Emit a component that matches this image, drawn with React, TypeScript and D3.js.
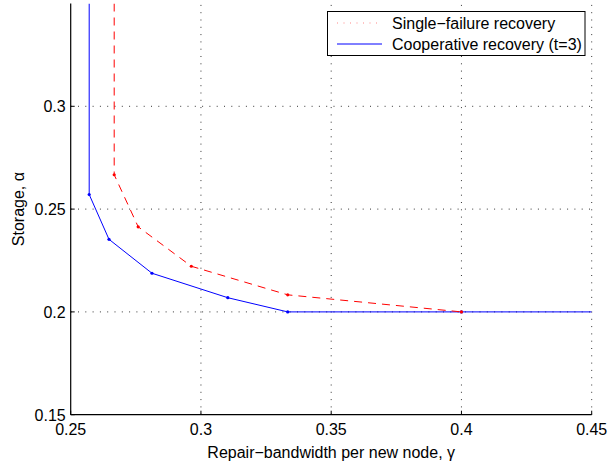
import React from "react";
import * as d3 from "d3";

const coopGamma = [0.2571, 0.2647, 0.2812, 0.3103, 0.3333, 0.4];
const coopAlpha = [0.2571, 0.2353, 0.2188, 0.2069, 0.2, 0.2];
const singleGamma = [0.2667, 0.2759, 0.2963, 0.3333, 0.4];
const singleAlpha = [0.2667, 0.2414, 0.2222, 0.2083, 0.2];
const xTicks = [0.25, 0.3, 0.35, 0.4, 0.45];
const yTicks = [0.15, 0.2, 0.25, 0.3];
const xDomain = [0.25, 0.45];
const yDomain = [0.15, 0.35];
const legendLabels = ["Single\u2212failure recovery", "Cooperative recovery (t=3)"];
const xLabel = "Repair\u2212bandwidth per new node, \u03b3";
const yLabel = "Storage, \u03b1";

const W = 608, H = 462;
const L = 70.7, R = 591.7, T = 3.5, B = 414.7;
const FONT = "'Liberation Sans', Arial, Helvetica, sans-serif";
const FS = 16;

export default function App() {
  const x = d3.scaleLinear().domain(xDomain).range([L, R]);
  const y = d3.scaleLinear().domain(yDomain).range([B, T]);
  const line = d3.line<[number, number]>().x(d => x(d[0])).y(d => y(d[1]));

  const coopPts: [number, number][] = coopGamma.map((g, i) => [g, coopAlpha[i]]);
  const singlePts: [number, number][] = singleGamma.map((g, i) => [g, singleAlpha[i]]);
  const coopLine: [number, number][] = [[coopGamma[0], yDomain[1]], ...coopPts, [xDomain[1], coopAlpha[coopAlpha.length - 1]]];
  const singleLine: [number, number][] = [[singleGamma[0], yDomain[1]], ...singlePts];

  return (
    <svg width={W} height={H} style={{ position: "absolute", left: 0, top: 0, background: "#fff" }} fontFamily={FONT}>
      <rect x={0} y={0} width={W} height={H} fill="#fff" />
      {xTicks.filter(t => t > xDomain[0]).map(t => (
        <line key={"gx" + t} x1={x(t)} x2={x(t)} y1={B} y2={T} stroke="#000" strokeWidth={0.8} strokeDasharray="1,6.3" />
      ))}
      {yTicks.filter(t => t > yDomain[0]).map(t => (
        <line key={"gy" + t} x1={L} x2={R} y1={y(t)} y2={y(t)} stroke="#000" strokeWidth={0.8} strokeDasharray="1,6.3" />
      ))}
      <defs>
        <clipPath id="plotclip">
          <rect x={L} y={T} width={R - L} height={B - T} />
        </clipPath>
      </defs>
      <g clipPath="url(#plotclip)">
        <path d={line(coopLine) || ""} fill="none" stroke="#0000ff" strokeWidth={1} />
        {coopPts.map((p, i) => (
          <circle key={"cp" + i} cx={x(p[0])} cy={y(p[1])} r={1.6} fill="#0000ff" />
        ))}
        <path d={line(singleLine) || ""} fill="none" stroke="#ff0000" strokeWidth={1} strokeDasharray="8,6" />
        {singlePts.map((p, i) => (
          <circle key={"sp" + i} cx={x(p[0])} cy={y(p[1])} r={1.6} fill="#ff0000" />
        ))}
      </g>
      <line x1={L} x2={L} y1={T} y2={B} stroke="#000" strokeWidth={1.2} />
      <line x1={L} x2={R} y1={B} y2={B} stroke="#000" strokeWidth={1.2} />
      {xTicks.map(t => (
        <g key={"xt" + t}>
          <line x1={x(t)} x2={x(t)} y1={B} y2={B - 4} stroke="#000" strokeWidth={1} />
          <text x={x(t)} y={B + 20.5} textAnchor="middle" fontSize={FS}>{t}</text>
        </g>
      ))}
      {yTicks.map(t => (
        <g key={"yt" + t}>
          <line x1={L} x2={L + 4} y1={y(t)} y2={y(t)} stroke="#000" strokeWidth={1} />
          <text x={L - 5} y={y(t) + 6} textAnchor="end" fontSize={FS}>{t}</text>
        </g>
      ))}
      <text x={(L + R) / 2} y={458} textAnchor="middle" fontSize={FS}>{xLabel}</text>
      <text transform={`translate(24,${(T + B) / 2}) rotate(-90)`} textAnchor="middle" fontSize={FS}>{yLabel}</text>
      <rect x={327.5} y={11.5} width={257.5} height={44} fill="#fff" stroke="#000" strokeWidth={1} />
      <line x1={337} x2={382} y1={23} y2={23} stroke="#ff0000" strokeWidth={0.8} strokeOpacity={0.6} strokeDasharray="1,5.5" />
      <line x1={337} x2={382} y1={44} y2={44} stroke="#0000ff" strokeWidth={1} />
      <text x={392} y={28.5} fontSize={FS}>{legendLabels[0]}</text>
      <text x={392} y={49.5} fontSize={FS}>{legendLabels[1]}</text>
    </svg>
  );
}
